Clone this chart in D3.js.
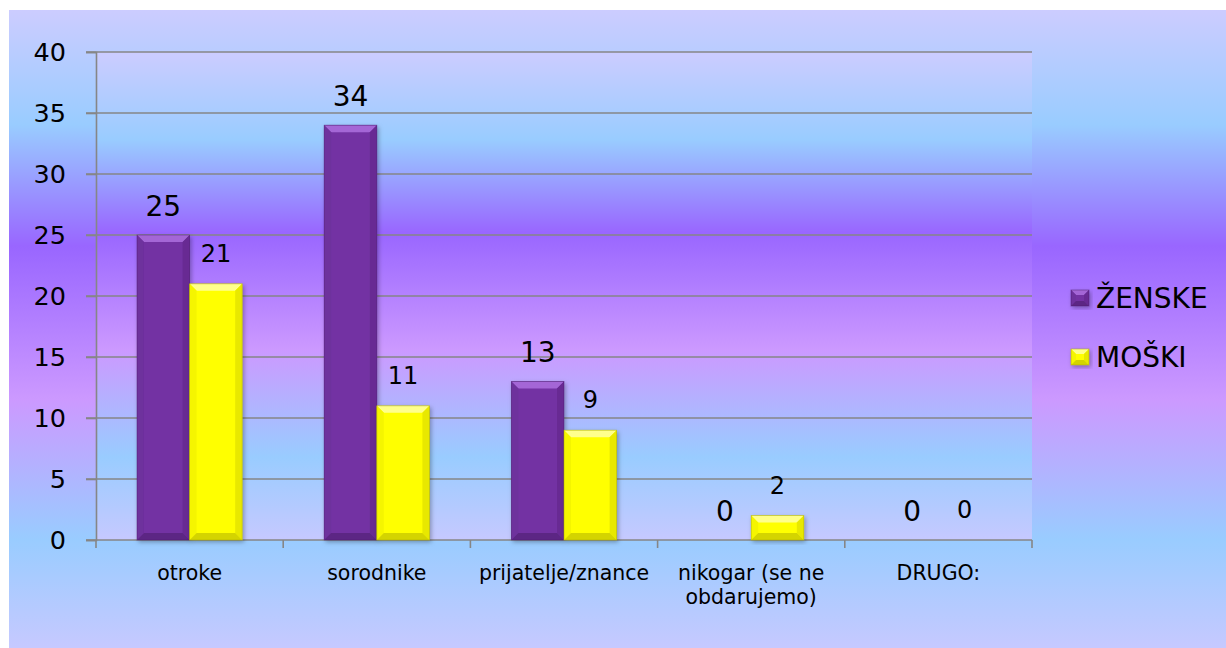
<!DOCTYPE html>
<html>
<head>
<meta charset="utf-8">
<script src="https://cdn.jsdelivr.net/npm/d3@7"></script>
<style>
  html, body { margin: 0; padding: 0; background: #fff; }
  svg { display: block; font-family: "DejaVu Sans", Verdana, sans-serif; }
</style>
</head>
<body>
<svg id="chart" width="1226" height="648"></svg>
<script>
// ---- data ----
const categories = ["otroke", "sorodnike", "prijatelje/znance", "nikogar (se ne obdarujemo)", "DRUGO:"];
const categoryLines = [["otroke"], ["sorodnike"], ["prijatelje/znance"], ["nikogar (se ne", "obdarujemo)"], ["DRUGO:"]];
const seriesNames = ["ŽENSKE", "MOŠKI"];
const zenske = [25, 34, 13, 0, 0];
const moski = [21, 11, 9, 2, 0];
const yTicks = [0, 5, 10, 15, 20, 25, 30, 35, 40];

// ---- layout ----
const W = 1226, H = 648;
const plot = { left: 96, right: 1032, top: 52, bottom: 540 };

const svg = d3.select("#chart");
const defs = svg.append("defs");

function addGrad(id) {
  const g = defs.append("linearGradient").attr("id", id)
    .attr("x1", 0).attr("y1", 0).attr("x2", 0).attr("y2", 1);
  [[0, "#ccccff"], [0.18, "#99ccff"], [0.37, "#9966ff"], [0.61, "#cc99ff"], [0.83, "#99ccff"], [1, "#c6c9ff"]]
    .forEach(([o, c]) => g.append("stop").attr("offset", o).attr("stop-color", c));
}
addGrad("bgGrad");
addGrad("plotGrad");

const sh = defs.append("filter").attr("id", "shadow")
  .attr("x", "-20%").attr("y", "-20%").attr("width", "140%").attr("height", "140%");
sh.append("feDropShadow").attr("dx", 1.5).attr("dy", 2).attr("stdDeviation", 2)
  .attr("flood-color", "#000").attr("flood-opacity", 0.3);

// outer background
svg.append("rect").attr("x", 9).attr("y", 10).attr("width", W - 9).attr("height", H - 10)
  .attr("fill", "url(#bgGrad)");

// plot background
svg.append("rect").attr("x", plot.left).attr("y", plot.top)
  .attr("width", plot.right - plot.left).attr("height", plot.bottom - plot.top)
  .attr("fill", "url(#plotGrad)");

// ---- scales ----
const x = d3.scaleBand().domain(categories).range([plot.left, plot.right]).paddingInner(0).paddingOuter(0);
const y = d3.scaleLinear().domain([0, 40]).range([plot.bottom, plot.top]);
const barW = x.bandwidth() * 0.281;
const groupOffset = (x.bandwidth() - 2 * barW) / 2;

// gridlines
svg.append("g").selectAll("line").data(yTicks.filter(d => d > 0)).join("line")
  .attr("x1", plot.left - 10).attr("x2", plot.right)
  .attr("y1", d => y(d)).attr("y2", d => y(d))
  .attr("stroke", "#868686").attr("stroke-width", 1.6);

// y axis
const yAxis = svg.append("g").attr("transform", `translate(${plot.left},0)`)
  .call(d3.axisLeft(y).tickValues(yTicks).tickSize(10).tickPadding(20));
yAxis.select(".domain").attr("stroke", "#868686").attr("stroke-width", 1.6);
yAxis.selectAll(".tick line").attr("stroke", "#868686").attr("stroke-width", 1.6);
yAxis.selectAll(".tick text").attr("font-size", 25.5).attr("fill", "#000")
  .attr("font-family", "DejaVu Sans, sans-serif");

// x axis
const xAxisLine = svg.append("g");
xAxisLine.append("line").attr("x1", plot.left - 10).attr("x2", plot.right)
  .attr("y1", y(0)).attr("y2", y(0)).attr("stroke", "#868686").attr("stroke-width", 1.6);
const boundaries = categories.map(c => x(c)).concat([plot.right]);
xAxisLine.selectAll("line.tk").data(boundaries).join("line").attr("class", "tk")
  .attr("x1", d => d).attr("x2", d => d).attr("y1", y(0)).attr("y2", y(0) + 8)
  .attr("stroke", "#868686").attr("stroke-width", 1.6);

// category labels
const catG = svg.append("g");
categories.forEach((c, i) => {
  const t = catG.append("text").attr("x", x(c) + x.bandwidth() / 2).attr("y", 580)
    .attr("text-anchor", "middle").attr("font-size", 20.5).attr("fill", "#000");
  categoryLines[i].forEach((ln, j) => {
    t.append("tspan").attr("x", x(c) + x.bandwidth() / 2).attr("dy", j === 0 ? 0 : 24).text(ln);
  });
});

// ---- bevel bar ----
const palettes = [
  { face: "#7333a3", top: "#a466d6", left: "#6e309d", right: "#672b93", bottom: "#5c2684", stroke: "#4e2070" },
  { face: "#ffff00", top: "#ffff8c", left: "#f5f500", right: "#e8e800", bottom: "#d4d400", stroke: "#a8a800" }
];
function bevelBar(g, bx, by, bw, bh, p, bev) {
  if (bh <= 0) return;
  const b = Math.min(bev, bh / 2, bw / 2);
  const grp = g.append("g").attr("filter", "url(#shadow)");
  grp.append("rect").attr("x", bx).attr("y", by).attr("width", bw).attr("height", bh).attr("fill", p.face);
  const poly = (pts, fill) => grp.append("polygon").attr("points", pts.map(q => q.join(",")).join(" ")).attr("fill", fill);
  poly([[bx, by], [bx + bw, by], [bx + bw - b, by + b], [bx + b, by + b]], p.top);
  poly([[bx, by], [bx + b, by + b], [bx + b, by + bh - b], [bx, by + bh]], p.left);
  poly([[bx + bw, by], [bx + bw, by + bh], [bx + bw - b, by + bh - b], [bx + bw - b, by + b]], p.right);
  poly([[bx, by + bh], [bx + b, by + bh - b], [bx + bw - b, by + bh - b], [bx + bw, by + bh]], p.bottom);
  grp.append("rect").attr("x", bx).attr("y", by).attr("width", bw).attr("height", bh)
    .attr("fill", "none").attr("stroke", p.stroke).attr("stroke-width", 0.8).attr("stroke-opacity", 0.6);
}

const barsG = svg.append("g");
const labelsG = svg.append("g");
const seriesData = [zenske, moski];
const labelSize = [28, 24];
const labelOffset = [29, 30];
seriesData.forEach((vals, si) => {
  vals.forEach((v, i) => {
    const c = categories[i];
    const bx = x(c) + groupOffset + si * barW;
    bevelBar(barsG, bx, y(v), barW, y(0) - y(v), palettes[si], 7);
    labelsG.append("text").attr("x", bx + barW / 2).attr("y", y(v) - labelOffset[si])
      .attr("text-anchor", "middle").attr("dominant-baseline", "central")
      .attr("font-size", labelSize[si]).attr("fill", "#000").text(v);
  });
});

// ---- legend ----
const legend = svg.append("g");
seriesNames.forEach((name, i) => {
  const ly = 298 + i * 59;
  const lg = legend.append("g");
  bevelBar(lg, 1071, ly - 8, 18, 16, palettes[i], 5);
  legend.append("text").attr("x", 1096).attr("y", ly).attr("dominant-baseline", "central")
    .attr("font-size", 28).attr("fill", "#000").text(name);
});
</script>
</body>
</html>
